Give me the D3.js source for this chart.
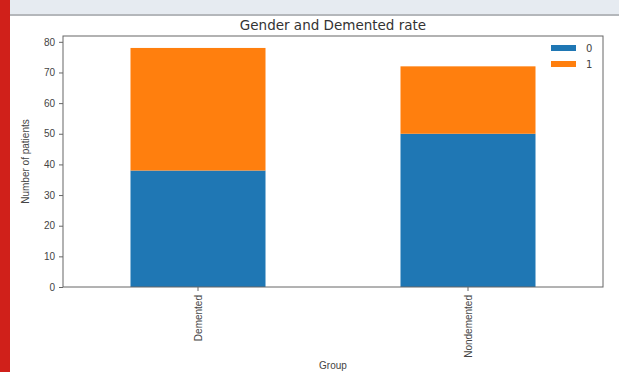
<!DOCTYPE html>
<html>
<head>
<meta charset="utf-8">
<script src="https://cdn.jsdelivr.net/npm/d3@7"></script>
<style>
  html, body { margin: 0; padding: 0; background: #fff; }
  svg { display: block; }
</style>
</head>
<body>
<svg id="chart" width="619" height="372"></svg>
<script>
// Gender counts per diagnosis group (stacked)
const groups = ["Demented", "Nondemented"];
const genderKeys = ["0", "1"];
const gender0 = [38, 50];
const gender1 = [40, 22];
const yTicks = [0, 10, 20, 30, 40, 50, 60, 70, 80];
const colors = ["#1f77b4", "#ff7f0e"];

const svg = d3.select("#chart");
const W = 619, H = 372;

// page frame: red side strip and grey header band
svg.append("rect").attr("x", 0).attr("y", 0).attr("width", W).attr("height", H).attr("fill", "#fff");
svg.append("rect").attr("x", 0).attr("y", 0).attr("width", W).attr("height", 14).attr("fill", "#e6ebf1");
svg.append("rect").attr("x", 0).attr("y", 14).attr("width", W).attr("height", 2).attr("fill", "#b4b7bb");
svg.append("rect").attr("x", 0).attr("y", 0).attr("width", 10).attr("height", H).attr("fill", "#d0201a");

const m = { left: 63, right: 603, top: 36, bottom: 287 };

const rows = groups.map((g, i) => ({ group: g, "0": gender0[i], "1": gender1[i] }));
const stacked = d3.stack().keys(genderKeys)(rows);
const totalMax = d3.max(rows, d => d["0"] + d["1"]);

const x = d3.scaleBand().domain(groups).range([m.left, m.right]).paddingInner(0.5).paddingOuter(0.25);
const y = d3.scaleLinear().domain([0, totalMax * 1.05]).range([m.bottom, m.top]);

const g = svg.append("g");

// bars
stacked.forEach((layer, k) => {
  g.selectAll(null).data(layer).enter().append("rect")
    .attr("x", (d, i) => x(groups[i]))
    .attr("width", x.bandwidth())
    .attr("y", d => y(d[1]))
    .attr("height", d => y(d[0]) - y(d[1]))
    .attr("fill", colors[k]);
});

// axes frame
g.append("rect").attr("x", m.left).attr("y", m.top)
  .attr("width", m.right - m.left).attr("height", m.bottom - m.top)
  .attr("fill", "none").attr("stroke", "#666").attr("stroke-width", 1);

const yAxis = g.append("g").attr("transform", `translate(${m.left},0)`)
  .call(d3.axisLeft(y).tickValues(yTicks).tickSize(4).tickPadding(4));
yAxis.select(".domain").remove();
yAxis.selectAll("line").attr("stroke", "#666");
yAxis.selectAll("text").attr("fill", "#444").style("font-family", "Liberation Sans Narrow, Liberation Sans, sans-serif").style("font-size", "10px");

const xAxis = g.append("g").attr("transform", `translate(0,${m.bottom})`)
  .call(d3.axisBottom(x).tickSize(4).tickPadding(4));
xAxis.select(".domain").remove();
xAxis.selectAll("line").attr("stroke", "#666");
xAxis.selectAll("text")
  .attr("fill", "#444")
  .style("font-family", "Liberation Sans Narrow, Liberation Sans, sans-serif")
  .style("font-size", "10px")
  .attr("text-anchor", "end")
  .attr("transform", "rotate(-90)")
  .attr("x", -8).attr("y", 0).attr("dy", "0.35em");

// title and axis labels
svg.append("text").attr("x", (m.left + m.right) / 2).attr("y", 30)
  .attr("text-anchor", "middle").attr("fill", "#333")
  .style("font-family", "DejaVu Sans, sans-serif").style("font-size", "13.5px")
  .text("Gender and Demented rate");

svg.append("text").attr("transform", `translate(29,${(m.top + m.bottom) / 2}) rotate(-90)`)
  .attr("text-anchor", "middle").attr("fill", "#444")
  .style("font-family", "Liberation Sans Narrow, Liberation Sans, sans-serif").style("font-size", "10px")
  .text("Number of patients");

svg.append("text").attr("x", (m.left + m.right) / 2).attr("y", 369)
  .attr("text-anchor", "middle").attr("fill", "#444")
  .style("font-family", "Liberation Sans Narrow, Liberation Sans, sans-serif").style("font-size", "10px")
  .text("Group");

// legend
const legend = svg.append("g").attr("transform", "translate(551,45)");
genderKeys.forEach((k, i) => {
  legend.append("rect").attr("x", 0).attr("y", i * 16).attr("width", 25).attr("height", 6).attr("fill", colors[i]);
  legend.append("text").attr("x", 35).attr("y", i * 16 + 3).attr("dy", "0.35em")
    .attr("fill", "#444").style("font-family", "DejaVu Sans, sans-serif").style("font-size", "10px").text(k);
});
</script>
</body>
</html>
